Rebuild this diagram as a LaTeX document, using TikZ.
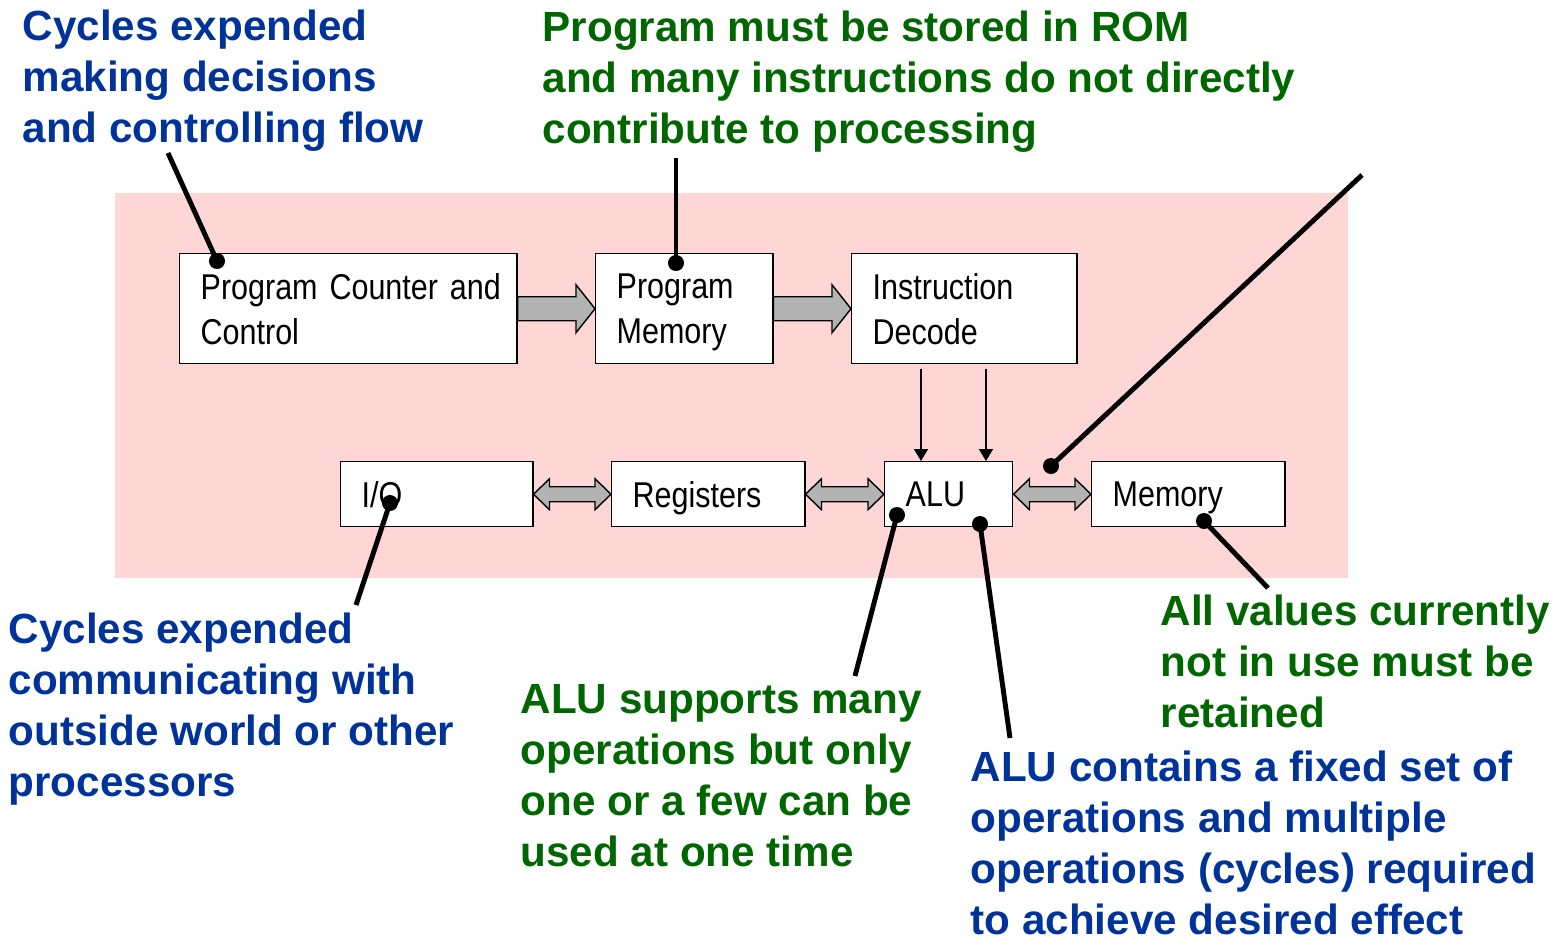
\documentclass[tikz,border=0pt]{standalone}
\usepackage{fontspec}
\setmainfont{Liberation Sans}
\newfontfamily\narrowsans[FakeStretch=0.85]{Liberation Sans}
\usetikzlibrary{calc,arrows.meta}
\definecolor{notblue}{RGB}{0,51,153}
\definecolor{notgreen}{RGB}{0,102,0}
\definecolor{bgpink}{RGB}{255,214,214}
\definecolor{fatgray}{RGB}{179,179,179}
\tikzset{
  box/.style={draw, thin, fill=white, font=\narrowsans\fontsize{10.2}{12.8}\selectfont,
    align=left, inner xsep=0.21cm, inner ysep=0, anchor=north west},
  toprow/.style={box, minimum height=1.10cm, text depth=12.8pt},
  lowrow/.style={box, minimum height=0.65cm, text depth=0pt},
  note/.style={font=\fontsize{12}{14.5}\selectfont\bfseries, align=left,
    inner sep=0, anchor=base west},
  fat/.style={draw, thin, fill=fatgray, line join=miter},
  leader/.style={line width=1.4pt},
  feed/.style={thin, -{Triangle[length=3.4pt,width=4pt]}}
}
% wide gray arrows between two boxes
\newcommand{\fatarrow}[2]{%
  \draw[fat] ($(#1.east)+(0,-12)$) -- ($(#2.west)+(-19,-12)$) -- ($(#2.west)+(-19,-24)$)
    -- (#2.west) -- ($(#2.west)+(-19,24)$) -- ($(#2.west)+(-19,12)$)
    -- ($(#1.east)+(0,12)$) -- cycle;}
\newcommand{\dblarrow}[2]{%
  \draw[fat] ($(#1.east)+(16,-7.5)$) -- ($(#2.west)+(-16,-7.5)$) -- ($(#2.west)+(-16,-15.5)$)
    -- (#2.west) -- ($(#2.west)+(-16,15.5)$) -- ($(#2.west)+(-16,7.5)$)
    -- ($(#1.east)+(16,7.5)$) -- ($(#1.east)+(16,15.5)$) -- (#1.east)
    -- ($(#1.east)+(16,-15.5)$) -- cycle;}
\begin{document}
\begin{tikzpicture}[x=0.01cm, y=-0.01cm]
\useasboundingbox (0,0) rectangle (1562,945);
\fill[bgpink] (115,193) rectangle (1348,578);

\node[toprow, text width=2.95cm] (pcc) at (179,253) {\mbox{Program Counter and}\\Control};
\node[toprow, text width=1.35cm] (progmem) at (595,253) {Program\\Memory};
\node[toprow, text width=1.83cm] (decode) at (851,253) {Instruction\\Decode};
\node[lowrow, text width=1.50cm] (io) at (340,461) {I/O};
\node[lowrow, text width=1.51cm] (regs) at (611,461) {Registers};
\node[lowrow, text width=0.86cm] (alu) at (884,461) {ALU};
\node[lowrow, text width=1.51cm] (mem) at (1091,461) {Memory};

\fatarrow{pcc}{progmem}
\fatarrow{progmem}{decode}
\dblarrow{io}{regs}
\dblarrow{regs}{alu}
\dblarrow{alu}{mem}

\draw[feed] (decode.south west) ++(70,5) coordinate (d1) -- (d1 |- alu.north);
\draw[feed] (decode.south west) ++(135,5) coordinate (d2) -- (d2 |- alu.north);

\node[note, text=notblue] (notecontrol) at (22,142) {Cycles expended\\making decisions\\and controlling flow};
\node[note, text=notgreen] (noterom) at (542,143) {Program must be stored in ROM\\and many instructions do not directly\\contribute to processing};
\node[note, text=notblue] (noteio) at (8,796) {Cycles expended\\communicating with\\outside world or other\\processors};
\node[note, text=notgreen] (noteops) at (520,866) {ALU supports many\\operations but only\\one or a few can be\\used at one time};
\node[note, text=notblue] (notealu) at (970,934) {ALU contains a fixed set of\\operations and multiple\\operations (cycles) required\\to achieve desired effect};
\node[note, text=notgreen] (notemem) at (1160,727) {All values currently\\not in use must be\\retained};

\coordinate (c1) at (217,261);
\coordinate (c2) at (676,263);
\coordinate (c3) at (1051,466);
\coordinate (c4) at (390,503);
\coordinate (c5) at (897,515);
\coordinate (c6) at (980,524);
\coordinate (c7) at (1204,521);
\coordinate (t3) at (1362,175);
\draw[leader] (168,153) -- (c1);
\draw[leader] (676,158) -- (c2);
\draw[leader] (t3) -- (c3);
\draw[leader] (c4) -- (356,605);
\draw[leader] (c5) -- (855,676);
\draw[leader] (c6) -- (1010,738);
\draw[leader] (c7) -- (1268,588);
\foreach \c in {c1,c2,c3,c4,c5,c6,c7}
  \fill (\c) circle (0.08cm);
\end{tikzpicture}
\end{document}
